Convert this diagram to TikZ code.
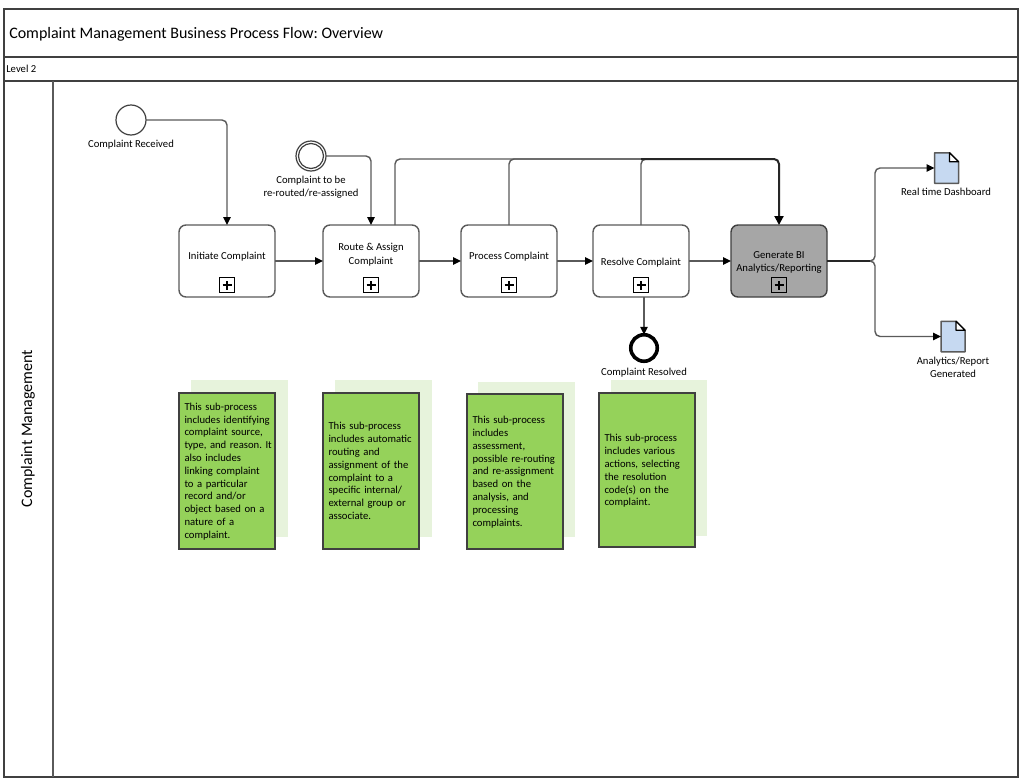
\documentclass[tikz,border=0pt]{standalone}
\usepackage{fontspec}
\setmainfont{Carlito}
\usetikzlibrary{arrows.meta}
\frenchspacing
\newcommand{\pxu}{0.75pt}
\definecolor{linegrey}{HTML}{5A5A5A}
\definecolor{framegrey}{HTML}{404040}
\definecolor{notegreen}{HTML}{95D25A}
\definecolor{notepale}{HTML}{E7F3DC}
\definecolor{docblue}{HTML}{C6D9F1}
\definecolor{taskgrey}{HTML}{A6A6A6}
\tikzset{
  x=0.75pt, y=-0.75pt,
  small/.style={font=\fontsize{8}{9.6}\selectfont},
  frameline/.style={draw=framegrey, line width=1.1*\pxu},
  task/.style={draw=linegrey, fill=white, line width=1.4*\pxu, rounded corners=7*\pxu,
    minimum width=96*\pxu, minimum height=72*\pxu, inner sep=0pt, outer sep=0pt,
    align=center, small},
  expand/.style={draw=black, line width=1*\pxu, minimum size=15*\pxu, inner sep=0pt, outer sep=0pt,
    path picture={
      \draw[black, line width=2*\pxu]
        ([xshift=-4.5*\pxu]path picture bounding box.center) -- ([xshift=4.5*\pxu]path picture bounding box.center)
        ([yshift=-4.5*\pxu]path picture bounding box.center) -- ([yshift=4.5*\pxu]path picture bounding box.center);
    }},
  event/.style={circle, draw=framegrey, fill=white, line width=1.2*\pxu, minimum size=30*\pxu,
    inner sep=0pt, outer sep=0pt},
  endevent/.style={circle, draw=black, fill=white, line width=3.6*\pxu, minimum size=26.500*\pxu,
    inner sep=0pt, outer sep=0pt},
  lbl/.style={small, align=center, inner sep=0pt},
  flow/.style={draw=linegrey, line width=1.4*\pxu, rounded corners=5*\pxu,
    -{Triangle[length=8*\pxu, width=7.5*\pxu, black]}},
  plainflow/.style={draw=linegrey, line width=1.4*\pxu, rounded corners=5*\pxu},
  heavyflow/.style={draw=black!85, line width=2*\pxu, rounded corners=5*\pxu,
    -{Triangle[length=9*\pxu, width=9*\pxu, black]}},
  shade/.style={fill=notepale, draw=none, minimum width=96.5*\pxu, inner sep=0pt, outer sep=0pt},
  note/.style={fill=notegreen, draw=framegrey, line width=1.1*\pxu, minimum width=96*\pxu,
    inner sep=0pt, outer sep=0pt},
  notetext/.style={small, align=left, inner sep=0pt, text width=90*\pxu, anchor=center},
  docbody/.style={minimum width=24*\pxu, minimum height=30.5*\pxu, inner sep=0pt, outer sep=0pt},
}
% Page-shaped data object drawn around a named rectangular node
\newcommand{\docicon}[1]{%
  \draw[fill=docblue, draw=linegrey, line width=1.5*\pxu, line join=round]
    (#1.north west) -- ([xshift=-9*\pxu]#1.north east) -- ([yshift=-9*\pxu]#1.north east)
    -- (#1.south east) -- (#1.south west) -- cycle;
  \draw[fill=white, draw=black, line width=1.2*\pxu, line join=round]
    ([xshift=-9*\pxu]#1.north east) -- ([yshift=-9*\pxu]#1.north east)
    -- ([xshift=-9*\pxu,yshift=-9*\pxu]#1.north east) -- cycle;
}
\begin{document}
\begin{tikzpicture}
\useasboundingbox (0,0) rectangle (1019,778);
\fill[white] (0,0) rectangle (1019,778);

% Title block and swimlane frame
\draw[frameline] (4,9) rectangle (1018,777);
\draw[frameline] (4,57) -- (1018,57);
\draw[frameline] (4,81) -- (1018,81);
\draw[draw=linegrey, line width=1.5*\pxu] (53,81) -- (53,777);
\node[anchor=west, inner sep=0pt, font=\fontsize{12}{14}\selectfont] (title) at (9,34)
  {Complaint Management Business Process Flow: Overview};
\node[anchor=west, inner sep=0pt, small] (level) at (6,68.500) {Level 2};
\node[rotate=90, inner sep=0pt, font=\fontsize{12}{15}\selectfont] (lane) at (28,428.500) {Complaint Management};

% Tasks
\node[task] (initiate) at (227,261) {\raisebox{1pt}[0pt][0pt]{Initiate Complaint}};
\node[task] (route) at (371,261) {\raisebox{-2.5pt}[0pt][0pt]{\shortstack{Route \& Assign\\[0.6pt]Complaint}}};
\node[task] (process) at (509,261) {\raisebox{1pt}[0pt][0pt]{Process Complaint}};
\node[task] (resolve) at (641,261) {\raisebox{-3.5pt}[0pt][0pt]{Resolve Complaint}};
\node[task, fill=taskgrey, draw=framegrey] (bi) at (779,261)
  {\raisebox{-7.5pt}[0pt][0pt]{\shortstack{Generate BI\\[0.6pt]Analytics/Reporting}}};

\node[expand, fill=white] (m1) at (227,285) {};
\node[expand, fill=white] (m2) at (371,285) {};
\node[expand, fill=white] (m3) at (509,285) {};
\node[expand, fill=white] (m4) at (641,285) {};
\node[expand] (m5) at (779,285) {};

% Events
\node[event] (received) at (131,120) {};
\node[event] (reroute) at (311,156) {};
\node[circle, draw=framegrey, line width=1.2*\pxu, minimum size=25*\pxu, inner sep=0pt] (rerouteinner) at (311,156) {};
\node[endevent] (resolved) at (644,348) {};

\node[lbl] (receivedlbl) at (131,145) {Complaint Received};
\node[lbl] (reroutelbl) at (311,187.500) {Complaint to be\\re-routed/re-assigned};
\node[lbl] (resolvedlbl) at (644,373) {Complaint Resolved};

% Data objects
\node[docbody] (dash) at (946.500,168) {};
\docicon{dash}
\node[docbody] (report) at (953,336.500) {};
\docicon{report}
\node[lbl] (dashlbl) at (946,191.500) {Real time Dashboard};
\node[lbl] (reportlbl) at (953,367.500) {Analytics/Report\\Generated};

% Connector end points on the task borders
\coordinate (routetop) at (395,225);
\coordinate (processtop) at (509,225);
\coordinate (resolvetop) at (641,225);
\coordinate (resolvefoot) at (644,297);
\coordinate (bus) at (779,159);
\coordinate (busjoin) at (641,159);
\coordinate (fork) at (875,261);
\coordinate (forkup) at (875,168);
\coordinate (forkdown) at (875,336.500);

% Sequence flows
\draw[flow] (received.east) -| (initiate.north);
\draw[flow] (reroute.east) -| (route.north);
\draw[flow] (initiate.east) -- (route.west);
\draw[flow] (route.east) -- (process.west);
\draw[flow] (process.east) -- (resolve.west);
\draw[flow] (resolve.east) -- (bi.west);
\draw[flow] (resolvefoot) -- (resolved.north);
\draw[plainflow] (routetop) |- (busjoin);
\draw[plainflow] (processtop) -- (processtop |- bus) -- (busjoin);
\draw[plainflow] (resolvetop) -- (busjoin) -- ++(6,0);
\draw[heavyflow] (busjoin) -- (bus) -- (bi.north);
\draw[flow] (bi.east) -- (fork) -- (forkup) -- (dash.west);
\draw[flow] (bi.east) -- (fork) -- (forkdown) -- (report.west);
\draw[draw=black!85, line width=1.9*\pxu] (bi.east) -- ++(43,0);

% Sub-process notes with their pale offset panels
\node[shade, minimum height=157*\pxu] (s1) at (239.500,458.500) {};
\node[shade, minimum height=157*\pxu] (s2) at (383.500,458.500) {};
\node[shade, minimum height=155*\pxu] (s3) at (526.500,459.500) {};
\node[shade, minimum height=156*\pxu] (s4) at (659,458) {};

\node[note, minimum height=156*\pxu] (n1) at (227,471) {};
\node[note, minimum height=156*\pxu] (n2) at (371,471) {};
\node[note, minimum height=155*\pxu] (n3) at (515,471.500) {};
\node[note, minimum height=154*\pxu] (n4) at (647,470) {};

\node[notetext] (t1) at (229.500,471.500) {%
This sub-process\\includes identifying\\complaint source,\\type, and reason. It\\also includes\\linking complaint\\to a particular\\record and/or\\object based on a\\nature of a\\complaint.};
\node[notetext] (t2) at (373.500,471) {%
This sub-process\\includes automatic\\routing and\\assignment of the\\complaint to a\\specific internal/\\external group or\\associate.};
\node[notetext] (t3) at (517.500,472) {%
This sub-process\\includes\\assessment,\\possible re-routing\\and re-assignment\\based on the\\analysis, and\\processing\\complaints.};
\node[notetext] (t4) at (649.500,471) {%
This sub-process\\includes various\\actions, selecting\\the resolution\\code(s) on the\\complaint.};
\end{tikzpicture}
\end{document}
